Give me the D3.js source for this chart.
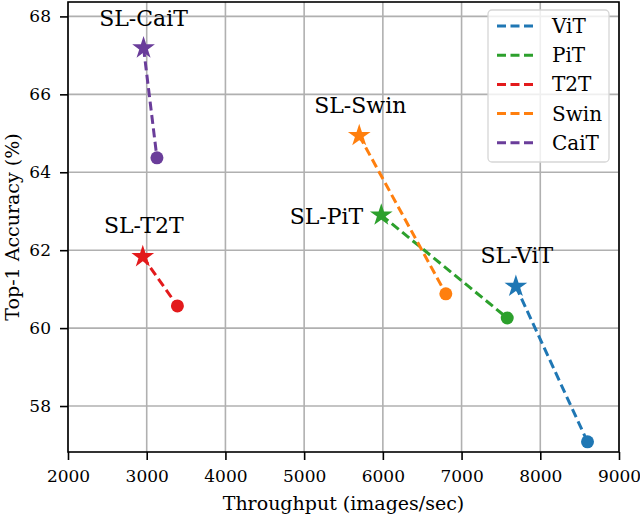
<!DOCTYPE html>
<html lang="en">
<head>
<meta charset="UTF-8">
<title>Throughput vs accuracy</title>
<script src="https://d3js.org/d3.v7.min.js"></script>
<style>
  body { margin: 0; background: #fff; }
  svg text { font-family: "DejaVu Serif", serif; fill: #000; }
</style>
</head>
<body>
<script>
// data
var models = ["ViT", "PiT", "T2T", "Swin", "CaiT"];
var colors = ["#1f77b4", "#2ca02c", "#e31a1c", "#ff7f0e", "#6a3d9a"];
// star = SL version, circle = baseline
var slThroughput = [7690, 5980, 2950, 5700, 2960];
var slAccuracy = [61.07, 62.9, 61.83, 64.94, 67.19];
var baseThroughput = [8600, 7580, 3390, 6800, 3130];
var baseAccuracy = [57.08, 60.26, 60.57, 60.88, 64.37];
var xTicks = [2000, 3000, 4000, 5000, 6000, 7000, 8000, 9000];
var yTicks = [58, 60, 62, 64, 66, 68];

var w = 640, h = 516;
var mLeft = 68, mRight = 619, mTop = 2, mBottom = 452;

var svg = d3.select("body").append("svg")
    .attr("width", w)
    .attr("height", h);

var x = d3.scaleLinear().domain([2000, 9000]).range([mLeft, mRight]);
var y = d3.scaleLinear().domain([56.82, 68.37]).range([mBottom, mTop]);

// grid
svg.append("g").selectAll("line").data(xTicks).enter().append("line")
    .attr("x1", function(d) { return x(d); })
    .attr("x2", function(d) { return x(d); })
    .attr("y1", mTop).attr("y2", mBottom)
    .attr("stroke", "#b0b0b0").attr("stroke-width", 1.6);
svg.append("g").selectAll("line").data(yTicks).enter().append("line")
    .attr("y1", function(d) { return y(d); })
    .attr("y2", function(d) { return y(d); })
    .attr("x1", mLeft).attr("x2", mRight)
    .attr("stroke", "#b0b0b0").attr("stroke-width", 1.6);

// axes
var xAxis = svg.append("g")
    .attr("transform", "translate(0," + mBottom + ")")
    .call(d3.axisBottom(x).tickValues(xTicks).tickSize(8).tickPadding(10).tickFormat(d3.format("d")));
var yAxis = svg.append("g")
    .attr("transform", "translate(" + mLeft + ",0)")
    .call(d3.axisLeft(y).tickValues(yTicks).tickSize(8).tickPadding(9));
[xAxis, yAxis].forEach(function(a) {
    a.attr("font-family", "DejaVu Serif").attr("font-size", 17);
    a.selectAll("line").attr("stroke", "#000").attr("stroke-width", 1.6);
    a.select(".domain").remove();
});

svg.append("rect")
    .attr("x", mLeft).attr("y", mTop)
    .attr("width", mRight - mLeft).attr("height", mBottom - mTop)
    .attr("fill", "none").attr("stroke", "#000").attr("stroke-width", 1.6);

svg.append("text")
    .attr("x", (mLeft + mRight) / 2).attr("y", 510)
    .attr("text-anchor", "middle")
    .style("font-size", "19px")
    .text("Throughput (images/sec)");
svg.append("text")
    .attr("transform", "translate(19," + ((mTop + mBottom) / 2) + ") rotate(-90)")
    .attr("text-anchor", "middle")
    .style("font-size", "19px")
    .text("Top-1 Accuracy (%)");

// lines + markers
var star = d3.symbol().type(d3.symbolStar).size(160);
models.forEach(function(m, i) {
    svg.append("line")
        .attr("x1", x(slThroughput[i])).attr("y1", y(slAccuracy[i]))
        .attr("x2", x(baseThroughput[i])).attr("y2", y(baseAccuracy[i]))
        .attr("stroke", colors[i]).attr("stroke-width", 3)
        .attr("stroke-dasharray", "9,4.5");
    svg.append("circle")
        .attr("cx", x(baseThroughput[i])).attr("cy", y(baseAccuracy[i]))
        .attr("r", 6.5).attr("fill", colors[i]);
    svg.append("path")
        .attr("d", star)
        .attr("transform", "translate(" + x(slThroughput[i]) + "," + y(slAccuracy[i]) + ")")
        .attr("fill", colors[i]);
});

// labels: [dx, dy, anchor]
var labelPos = [[1, -23, "middle"], [-18, 9, "end"], [1, -24, "middle"], [1, -23, "middle"], [0, -22, "middle"]];
models.forEach(function(m, i) {
    svg.append("text")
        .attr("x", x(slThroughput[i]) + labelPos[i][0])
        .attr("y", y(slAccuracy[i]) + labelPos[i][1])
        .attr("text-anchor", labelPos[i][2])
        .style("font-size", "22px")
        .text("SL-" + m);
});

// legend
var legend = svg.append("g");
legend.append("rect")
    .attr("x", 488).attr("y", 10)
    .attr("width", 121).attr("height", 152)
    .attr("rx", 4)
    .attr("fill", "rgba(255,255,255,0.8)")
    .attr("stroke", "#d6d6d6").attr("stroke-width", 1.3);
var item = legend.selectAll("g.item").data(models).enter().append("g")
    .attr("class", "item")
    .attr("transform", function(d, i) { return "translate(497," + (26 + i * 29.2) + ")"; });
item.append("line")
    .attr("x1", 0).attr("x2", 40)
    .attr("stroke", function(d, i) { return colors[i]; })
    .attr("stroke-width", 3)
    .attr("stroke-dasharray", "9,4.5");
item.append("text")
    .attr("x", 55).attr("y", 7)
    .style("font-size", "20px")
    .text(function(d) { return d; });
</script>
</body>
</html>
